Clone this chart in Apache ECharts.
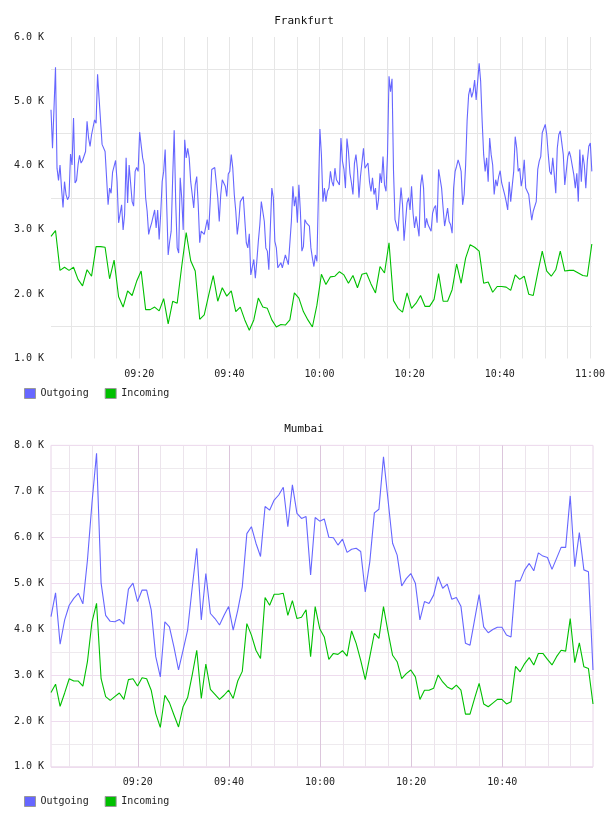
<!DOCTYPE html>
<html><head><meta charset="utf-8">
<script src="https://cdn.jsdelivr.net/npm/echarts@6/dist/echarts.min.js"></script>
<style>html,body{margin:0;padding:0;background:#fff}#c{width:608px;height:816px}</style>
</head><body><div id="c"></div><script>
const chartTitles = ['Frankfurt', 'Mumbai'];
const seriesNames = ['Outgoing', 'Incoming'];
const xTickLabelsTop = ['09:20', '09:40', '10:00', '10:20', '10:40', '11:00'];
const xTickLabelsBottom = ['09:20', '09:40', '10:00', '10:20', '10:40'];

// sample timing (clock time of first sample, seconds between samples)
const frankfurtOutStart = '09:00:25', frankfurtOutStep = 20;
const frankfurtInStart = '09:00:25', frankfurtInStep = 60;
const mumbaiStart = '09:00:56', mumbaiStep = 60;

const frankfurtOutgoing = [
4870,4270,4890,5530,3960,3770,4010,3650,3350,3750,
3550,3470,3520,4180,4010,4740,3730,3770,4010,4160,
4040,4080,4110,4220,4690,4430,4300,4480,4460,4710,
4660,5420,5050,4690,4330,4320,4220,3810,3390,3650,
3570,3900,3900,4080,3750,3110,3110,3390,3000,3240,
4120,3420,4010,3990,3440,3370,3910,3970,3910,4520,
4530,4120,4010,3500,3290,2930,3030,3110,3130,3310,
3030,3310,2850,3240,3750,3910,4250,3390,2610,2820,
2980,3810,4550,3440,2720,2640,3810,3500,3000,4400,
4120,4270,
4120,3750,3550,3340,3700,3830,3390,2800,2980,2950,
2930,2900,3160,3000,3440,3940,3940,3970,3940,3500,
3130,3550,3780,3800,3680,3520,3870,3910,4170,3960,
3550,3290,2930,3130,3440,3450,3520,3550,2800,2720,
2940,2300,2310,2540,2250,2510,2820,3080,3440,3440,
3130,2720,2670,2380,3030,3650,3500,2820,2720,2410,
2430,2490,2410,2380,2610,2640,2460,2430,3130,3680,
3370,3520,3110,3700,3290,2670,2740,3160,3110,3080,
3060,2720,2560,2430,2610,2510,3550,4570,4170,3440,
3650,3440,3600,3650,3910,3750,3680,3960,3780,3810,
3700,4430,4070,3940,3650,4420,4220,3880,3730,3550,
4040,4170,3940,3500,3830,3860,4270,3960,3960,4040,
3750,3600,3810,3550,3650,3310,3470,3880,3730,4140,
3700,3600,4170,5390,5150,5350,3910,3160,3180,2980,
2980,3660,3390,2830,2850,3420,3500,3310,3680,3260,
3030,3210,3060,2900,3680,3860,3650,3030,3180,3080,
3110,2980,3260,3340,3380,3110,3940,3970,3650,3340,
3060,3040,3340,3130,3080,2950,3650,3910,3990,4090,
4010,3910,3390,3550,4010,4710,5100,5210,5060,5150,
5330,5020,5020,5590,5310,4690,4170,3910,4120,3750,
4430,4170,4010,3550,3780,3680,3830,3920,3730,3700,
3550,3440,3310,3750,3440,3680,3910,4450,4270,3910,
3960,3680,3810,4090,3650,3630,3550,3340,3150,3290,
3310,3440,3940,4070,4140,4510,4530,4640,4480,4170,
3910,3860,4120,3860,3570,4270,4480,4540,4510,4170,
3700,3700,4140,4220,4130,4140,3860,3650,3880,3440,
4250,3750,4170,4010,3650,4070,4300,4350,3910
];
const frankfurtIncoming = [
2900,2990,2370,2420,2370,2420,2230,2130,2380,2280,
2740,2740,2730,2240,2530,1960,1800,2050,1980,2200,
2360,1760,1760,1800,1740,1930,1540,1890,1860,2430,
2960,2520,2360,1610,1680,1990,2290,1890,2100,1970,
2050,1730,1800,1600,1440,1600,1940,1800,1780,1600,
1490,1530,1520,1600,2020,1940,1730,1600,1490,1830,
2310,2150,2270,2280,2350,2300,2170,2290,2100,2310,
2330,2160,2020,2430,2330,2800,1900,1780,1720,2020,
1780,1860,1980,1810,1810,1920,2320,1890,1890,2070,
2470,2170,2560,2770,2730,2670,2170,2190,2030,2120,
2120,2110,2060,2300,2230,2280,2000,1980,2330,2670,
2360,2280,2380,2670,2360,2370,2370,2330,2290,2280,2780
];
const mumbaiOutgoing = [
4270,4790,3670,4200,4520,4670,4780,4550,5500,6750,
7830,5000,4300,4170,4160,4210,4110,4870,5000,4600,
4850,4850,4420,3400,2960,4160,4050,3610,3110,3540,
3980,4900,5760,4200,5210,4340,4230,4090,4300,4490,
3980,4410,4920,6080,6230,5870,5580,6670,6590,6810,
6920,7090,6230,7140,6520,6410,6450,5180,6430,6350,
6400,6000,5990,5830,5960,5670,5740,5760,5690,4810,
5470,6530,6610,7750,6810,5870,5610,4940,5100,5210,
5000,4200,4600,4560,4740,5140,4890,4980,4650,4690,
4500,3690,3650,4200,4750,4050,3920,3990,4040,4040,
3870,3830,5050,5050,5290,5430,5270,5660,5590,5560,
5300,5540,5780,5780,6900,5360,6100,5290,5250,3110
];
const mumbaiIncoming = [
2620,2800,2320,2610,2920,2870,2870,2760,3290,4160,
4560,2920,2530,2450,2530,2610,2470,2900,2920,2760,
2940,2920,2670,2160,1860,2560,2400,2130,1870,2310,
2510,3000,3540,2490,3240,2690,2580,2470,2560,2670,
2490,2870,3080,4120,3870,3540,3360,4690,4520,4760,
4760,4780,4300,4620,4230,4260,4420,3400,4490,4010,
3830,3340,3470,3450,3530,3410,3960,3690,3320,2900,
3400,3910,3800,4490,3940,3430,3290,2920,3030,3110,
2960,2470,2670,2670,2710,3000,2850,2740,2690,2780,
2670,2150,2150,2490,2820,2370,2310,2390,2470,2470,
2370,2420,3190,3070,3250,3380,3220,3470,3470,3340,
3220,3400,3540,3520,4230,3270,3700,3180,3140,2370
];

const BLUE = '#6666ff', GREEN = '#00c000';
const FONT = 'DejaVu Sans Mono';

function clockToMin(s) { const p = s.split(':').map(Number); return (p[0] - 9) * 60 + p[1] + p[2] / 60; }
function pairs(vals, start, stepSec) { const t0 = clockToMin(start); return vals.map((v, i) => [t0 + i * stepSec / 60, v]); }
function hhmm(m) { const h = 9 + Math.floor(m / 60), mm = Math.round(m % 60); return String(h).padStart(2, '0') + ':' + String(mm).padStart(2, '0'); }
function xFormatter(list) {
  return function (v) {
    if (Math.abs(v / 20 - Math.round(v / 20)) > 1e-6) return '';
    const s = hhmm(v); return list.indexOf(s) >= 0 ? s : '';
  };
}
const yFmt = v => (v / 1000).toFixed(1) + ' K';

const fOut = pairs(frankfurtOutgoing, frankfurtOutStart, frankfurtOutStep);
const fIn = pairs(frankfurtIncoming, frankfurtInStart, frankfurtInStep);
const mOut = pairs(mumbaiOutgoing, mumbaiStart, mumbaiStep);
const mIn = pairs(mumbaiIncoming, mumbaiStart, mumbaiStep);

const topMin = fOut[0][0], topMax = fOut[fOut.length - 1][0];
const botMin = mOut[0][0], botMax = mOut[mOut.length - 1][0];

const labelStyle = { fontFamily: FONT, fontSize: 10, color: '#222' };

const chart = echarts.init(document.getElementById('c'), null, { renderer: 'canvas' });
chart.setOption({
  animation: false,
  backgroundColor: '#fff',
  title: [
    { text: chartTitles[0], left: 'center', top: 16, padding: 0, textStyle: { fontFamily: FONT, fontSize: 11, fontWeight: 'normal', color: '#111' } },
    { text: chartTitles[1], left: 'center', top: 424, padding: 0, textStyle: { fontFamily: FONT, fontSize: 11, fontWeight: 'normal', color: '#111' } }
  ],
  legend: [0, 1].map(i => ({
    data: seriesNames, left: 24, top: i === 0 ? 388 : 796, padding: 0,
    icon: 'rect', itemWidth: 11, itemHeight: 10, itemGap: 16,
    itemStyle: { borderColor: '#999', borderWidth: 1 },
    textStyle: { fontFamily: FONT, fontSize: 10, color: '#222' }
  })),
  grid: [
    { left: 51, top: 37, width: 542, height: 321.5, containLabel: false, show: false },
    { left: 51, top: 445.4, width: 542, height: 321.5, containLabel: false, show: true, borderColor: '#e8d4e8', borderWidth: 1 }
  ],
  xAxis: [
    { type: 'value', gridIndex: 0, min: topMin, max: topMax, minInterval: 5, maxInterval: 5, splitNumber: 24,
      axisLine: { show: false }, axisTick: { show: false },
      axisLabel: Object.assign({ margin: 11, formatter: xFormatter(xTickLabelsTop), hideOverlap: false }, labelStyle),
      splitLine: { show: true, showMinLine: false, showMaxLine: false, lineStyle: { color: '#e6e6e6', width: 1 } } },
    { type: 'value', gridIndex: 1, min: botMin, max: botMax, minInterval: 5, maxInterval: 5, splitNumber: 24,
      axisLine: { show: false }, axisTick: { show: false },
      axisLabel: Object.assign({ margin: 11, formatter: xFormatter(xTickLabelsBottom), hideOverlap: false }, labelStyle),
      splitLine: { show: true, showMinLine: false, showMaxLine: false, lineStyle: { color: '#ece4ec', width: 1 } } },
    { type: 'value', gridIndex: 1, min: botMin, max: botMax, minInterval: 20, maxInterval: 20, splitNumber: 6,
      axisLine: { show: false }, axisTick: { show: false }, axisLabel: { show: false },
      splitLine: { show: true, showMinLine: false, showMaxLine: false, lineStyle: { color: '#dcc6dc', width: 1 } } }
  ],
  yAxis: [
    { type: 'value', gridIndex: 0, min: 1000, max: 6000, interval: 1000,
      axisLine: { show: false }, axisTick: { show: false },
      axisLabel: Object.assign({ margin: 7, formatter: yFmt }, labelStyle),
      splitLine: { show: false },
      minorTick: { show: false, splitNumber: 2 },
      minorSplitLine: { show: true, lineStyle: { color: '#e6e6e6', width: 1 } } },
    { type: 'value', gridIndex: 1, min: 1000, max: 8000, interval: 1000,
      axisLine: { show: false }, axisTick: { show: false },
      axisLabel: Object.assign({ margin: 7, formatter: yFmt }, labelStyle),
      splitLine: { show: true, lineStyle: { color: '#eedcee', width: 1 } },
      minorTick: { show: false, splitNumber: 2 },
      minorSplitLine: { show: true, lineStyle: { color: '#eeeaee', width: 1 } } }
  ],
  series: [
    { name: seriesNames[0], type: 'line', xAxisIndex: 0, yAxisIndex: 0, data: fOut, showSymbol: false, color: BLUE, lineStyle: { width: 1.1, color: BLUE } },
    { name: seriesNames[1], type: 'line', xAxisIndex: 0, yAxisIndex: 0, data: fIn, showSymbol: false, color: GREEN, lineStyle: { width: 1.1, color: GREEN } },
    { name: seriesNames[0], type: 'line', xAxisIndex: 1, yAxisIndex: 1, data: mOut, showSymbol: false, color: BLUE, lineStyle: { width: 1.1, color: BLUE } },
    { name: seriesNames[1], type: 'line', xAxisIndex: 1, yAxisIndex: 1, data: mIn, showSymbol: false, color: GREEN, lineStyle: { width: 1.1, color: GREEN } }
  ]
});
</script></body></html>
